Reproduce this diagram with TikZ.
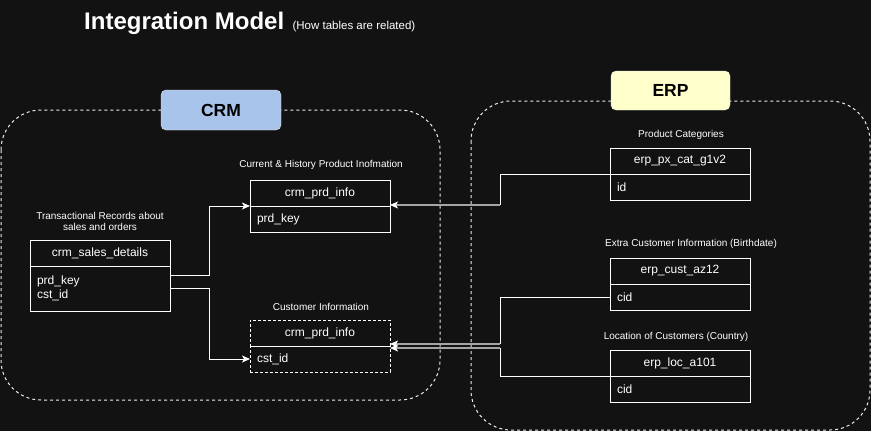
\documentclass[tikz,border=0pt]{standalone}
\usepackage{fontspec}
\setmainfont{Liberation Sans}
\usetikzlibrary{positioning,arrows.meta}
\definecolor{bgdark}{RGB}{18,18,18}
\definecolor{crmblue}{RGB}{169,196,235}
\definecolor{erpcream}{RGB}{255,255,204}
\definecolor{feedgray}{RGB}{165,165,165}
\tikzset{
	tblhead/.style={draw=white,line width=1pt,outer sep=0pt,inner sep=0pt,minimum width=140pt,minimum height=26pt,text=white,font=\fontsize{12}{14}\selectfont},
	tblbody/.style={draw=white,line width=1pt,outer sep=0pt,inner xsep=7pt,inner ysep=0pt,text width=126pt,minimum height=26pt,align=left,text=white,font=\fontsize{12}{14}\selectfont},
	caption/.style={text=white,align=center,inner sep=0pt,font=\fontsize{10}{11}\selectfont},
	group/.style={draw=white!85!gray,line width=1pt,dash pattern=on 3pt off 3pt,rounded corners=40pt},
	grouptag/.style={draw=white!80!gray,rounded corners=5pt,minimum width=120pt,minimum height=40pt,text=black,font=\fontsize{17.5}{20}\selectfont\bfseries},
	link/.style={draw=white,line width=1pt,-{Stealth[length=8pt,width=7pt,inset=2pt]}},
	wire/.style={draw=white,line width=1pt},
	feed/.style={draw=feedgray,line width=1.6pt,-{Stealth[length=8pt,width=7pt,inset=2pt,white]}}
}
\begin{document}
\begin{tikzpicture}[x=1pt,y=-1pt]
	\useasboundingbox (0,0) rectangle (871,431);
	\fill[bgdark] (0,0) rectangle (871,431);
	\node[anchor=base west,inner sep=0pt,text=white,font=\fontsize{24}{28}\selectfont\bfseries] (title) at (84,29) {Integration Model};
	\node[anchor=base west,inner sep=0pt,text=white,font=\fontsize{11.5}{13}\selectfont] (subtitle) at ([xshift=8pt]title.base east) {(How tables are related)};
	\draw[group] (1,110) rectangle (440,400);
	\draw[group] (471,101) rectangle (870,430);
	\node[grouptag,fill=crmblue] (crmtag) at (221,110) {CRM};
	\node[grouptag,fill=erpcream,minimum width=119pt,minimum height=39pt] (erptag) at (670.5,90.5) {ERP};
	\node[caption] (salescap) at (100,221.5) {Transactional Records about\\sales and orders};
	\node[tblhead,anchor=north west] (salesH) at (30,240) {crm\_sales\_details};
	\node[tblbody,below=0pt of salesH,minimum height=45pt] (salesB) {prd\_key\\cst\_id};
	\node[caption] (prdcap) at (321,164.5) {Current \& History Product Inofmation};
	\node[tblhead,anchor=north west] (prdH) at (250,180) {crm\_prd\_info};
	\node[tblbody,below=0pt of prdH] (prdB) {prd\_key};
	\node[caption] (custcap) at (321,307) {Customer Information};
	\node[tblhead,anchor=north west,dash pattern=on 3pt off 2pt] (custH) at (250,320) {crm\_prd\_info};
	\node[tblbody,below=0pt of custH,dash pattern=on 3pt off 2pt] (custB) {cst\_id};
	\node[caption] (pxcap) at (681,135) {Product Categories};
	\node[tblhead,anchor=north west] (pxH) at (610,148) {erp\_px\_cat\_g1v2};
	\node[tblbody,below=0pt of pxH] (pxB) {id};
	\node[caption] (azcap) at (691,244) {Extra Customer Information (Birthdate)};
	\node[tblhead,anchor=north west] (azH) at (610,258) {erp\_cust\_az12};
	\node[tblbody,below=0pt of azH] (azB) {cid};
	\node[caption] (loccap) at (676,337) {Location of Customers (Country)};
	\node[tblhead,anchor=north west] (locH) at (610,350) {erp\_loc\_a101};
	\node[tblbody,below=0pt of locH] (locB) {cid};
	\draw[link] ([yshift=13pt]salesB.east) -- ++(39,0) |- (prdH.south west);
	\draw[link] (salesB.east) -- ++(39,0) |- (custB.west);
	\coordinate (pxjoin) at (500,205);
	\coordinate (azjoin) at (500,344);
	\coordinate (locjoin) at (500,348);
	\draw[wire] (pxH.south west) -| (pxjoin);
	\draw[feed] (pxjoin) -- (prdH.east|-pxjoin);
	\draw[wire] (azB.west) -| (azjoin);
	\draw[feed] (azjoin) -- (custH.east|-azjoin);
	\draw[wire] (locH.south west) -| (locjoin);
	\draw[feed] (locjoin) -- (custH.east|-locjoin);
\end{tikzpicture}
\end{document}
